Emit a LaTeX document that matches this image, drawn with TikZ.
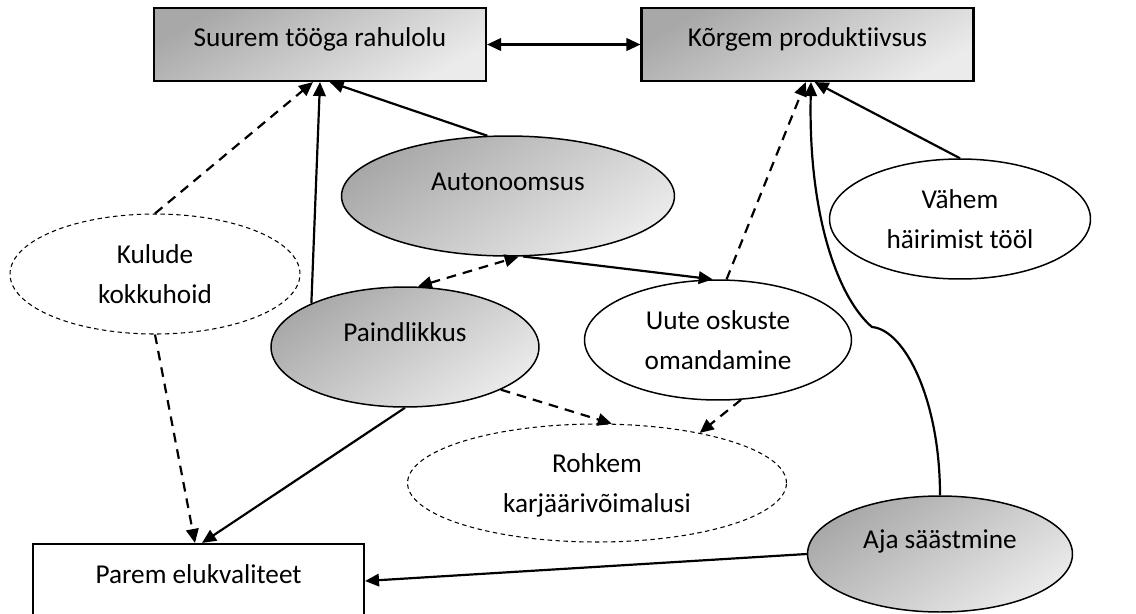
\documentclass[tikz,border=0pt]{standalone}
\usepackage{fontspec}
\setmainfont{Carlito}[Ligatures=NoCommon]
\usetikzlibrary{arrows.meta,shapes.geometric}

\begin{document}
\begin{tikzpicture}[
    x=0.02cm, y=-0.02cm,
    >={Triangle[length=2.8mm, width=2.5mm]},
    every node/.style={font=\fontsize{15.5}{22.7}\selectfont},
    box/.style={draw, line width=1.2pt, minimum width=6.64cm, minimum height=1.46cm, top color=black!34, bottom color=black!8, shading angle=30, text height=10.7pt, text depth=8pt},
    plainbox/.style={draw, line width=1.2pt, fill=white, minimum width=6.62cm, minimum height=1.48cm, text height=10.7pt, text depth=8pt},
    oval/.style={ellipse, draw, line width=0.85pt, inner sep=0pt, align=center, minimum width=5.32cm, minimum height=2.4cm},
    oneline/.style={text height=10.7pt, text depth=16.5pt},
    twolines/.style={text height=33.4pt, text depth=-6.2pt},
    greyoval/.style={oval, top color=black!34, bottom color=black!8, shading angle=35},
    faint/.style={oval, line width=0.6pt, dash pattern=on 2.5pt off 2pt},
    flow/.style={->, line width=1.25pt},
    weakflow/.style={flow, dash pattern=on 5.5pt off 4pt}
]
\path[use as bounding box, fill=white] (0,0) rectangle (1136,613);
\clip (0,0) rectangle (1136,613);

\node[box] (satisfaction) at (320,44.5) {Suurem tööga rahulolu};
\node[box] (productivity) at (807.5,44.5) {Kõrgem produktiivsus};
\node[plainbox] (life) at (198.5,581) {Parem elukvaliteet};
\node[greyoval, oneline, minimum width=6.66cm] (autonomy) at (508,196) {Autonoomsus};
\node[faint, twolines, minimum width=5.8cm] (savings) at (155,274) {Kulude\\kokkuhoid};
\node[greyoval, oneline, minimum width=5.36cm] (flexibility) at (405,347) {Paindlikkus};
\node[oval, twolines, minimum width=5.34cm] (skills) at (718,340) {Uute oskuste\\omandamine};
\node[oval, twolines, minimum width=5.22cm] (distraction) at (960,219) {Vähem\\häirimist tööl};
\node[faint, twolines, minimum width=7.58cm, minimum height=2.36cm] (career) at (597,483) {Rohkem\\karjäärivõimalusi};
\node[greyoval, oneline, minimum width=5.3cm, minimum height=2.32cm] (time) at (940,554) {Aja säästmine};

\draw[flow, <->] (satisfaction) -- (productivity);
\draw[weakflow] (savings.north) -- ([xshift=-4pt]satisfaction.south);
\draw[flow] (flexibility.155) -- (satisfaction.south);
\draw[flow] (autonomy.109) -- ([xshift=5.5pt]satisfaction.south);
\draw[weakflow, <->] (flexibility.78) -- (autonomy.280);
\draw[flow] (autonomy.284) -- (skills.95);
\draw[weakflow] (skills.82) -- ([xshift=-1pt]productivity.south);
\draw[flow] (distraction.north) -- ([xshift=4pt]productivity.south);
\draw[flow] (time.north) .. controls (940,400) and (905,330) .. (872,327)
    .. controls (840,300) and (808,220) .. ([xshift=2pt]productivity.south);
\draw[weakflow] (flexibility.336) -- (career.76);
\draw[weakflow] (skills.291) -- (career.26);
\draw[weakflow] (savings.south) -- ([xshift=-2pt]life.north);
\draw[flow] (flexibility.south) -- ([xshift=2pt]life.north);
\draw[flow] (time.west) -- (life.east);
\end{tikzpicture}
\end{document}
